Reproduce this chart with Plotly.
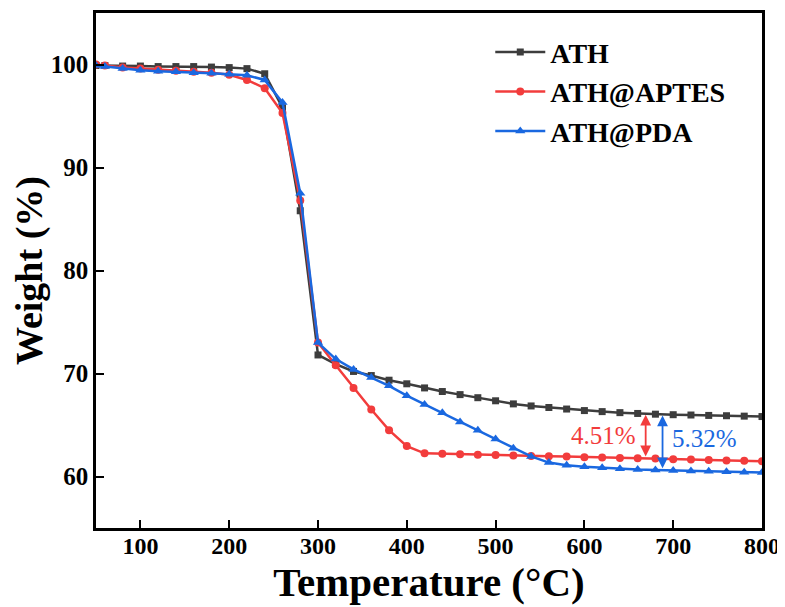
import numpy as np
import plotly.graph_objects as go

temperature = [50, 60, 80, 100, 120, 140, 160, 180, 200, 220, 240, 260, 280, 300,
               320, 340, 360, 380, 400, 420, 440, 460, 480, 500, 520, 540, 560,
               580, 600, 620, 640, 660, 680, 700, 720, 740, 760, 780, 800]

ath = [99.9, 99.9, 99.85, 99.85, 99.8, 99.8, 99.8, 99.75, 99.7, 99.6, 99.1, 95.8,
       85.8, 71.8, 70.9, 70.2, 69.8, 69.35, 69.0, 68.6, 68.25, 67.95, 67.65, 67.35,
       67.05, 66.85, 66.7, 66.55, 66.4, 66.3, 66.2, 66.12, 66.05, 66.0, 65.97,
       65.93, 65.9, 65.86, 65.82]

ath_aptes = [100.0, 99.9, 99.7, 99.6, 99.5, 99.4, 99.3, 99.2, 99.0, 98.5, 97.7, 95.3,
             86.8, 73.0, 70.8, 68.6, 66.5, 64.5, 62.95, 62.25, 62.2, 62.15, 62.12,
             62.08, 62.03, 62.0, 61.97, 61.93, 61.88, 61.84, 61.8, 61.77, 61.74,
             61.68, 61.64, 61.6, 61.56, 61.52, 61.48]

ath_pda = [99.9, 99.8, 99.6, 99.45, 99.35, 99.3, 99.2, 99.15, 99.05, 98.95, 98.5, 96.3,
           87.5, 73.0, 71.4, 70.4, 69.6, 68.8, 67.85, 67.0, 66.2, 65.3, 64.5, 63.65,
           62.75, 61.95, 61.35, 61.1, 60.95, 60.85, 60.75, 60.68, 60.63, 60.58,
           60.54, 60.5, 60.46, 60.42, 60.38]

series_names = ["ATH", "ATH@APTES", "ATH@PDA"]
series_colors = ["#3d3d3d", "#f23c3c", "#1a68e0"]
series_symbols = ["square", "circle", "triangle-up"]
series_sizes = [7, 8, 9]

x_ticks = [100, 200, 300, 400, 500, 600, 700, 800]
y_ticks = [60, 70, 80, 90, 100]

diff_labels = ["4.51%", "5.32%"]
arrow_temps = [669, 688]

serif = "Liberation Serif"

fig = go.Figure()
for name, ys, col, sym, sz in zip(series_names, [ath, ath_aptes, ath_pda],
                                  series_colors, series_symbols, series_sizes):
    fig.add_trace(go.Scatter(
        x=temperature, y=ys, name=name, mode="lines+markers",
        line=dict(color=col, width=2.5),
        marker=dict(symbol=sym, size=sz, color=col),
    ))

# double-headed arrows between residues
t = np.array(temperature, dtype=float)
ath_at = [float(np.interp(a, t, ath)) for a in arrow_temps]
low_at = [float(np.interp(arrow_temps[0], t, ath_aptes)),
          float(np.interp(arrow_temps[1], t, ath_pda))]
for a, top, bot, col in zip(arrow_temps, ath_at, low_at, series_colors[1:]):
    fig.add_annotation(
        x=a, y=top - 0.1, ax=a, ay=bot + 0.05, xref="x", yref="y", axref="x", ayref="y",
        text="", showarrow=True, arrowhead=2, arrowside="end+start",
        arrowsize=1.2, arrowwidth=1.8, arrowcolor=col, standoff=0, startstandoff=0,
    )

fig.add_annotation(x=arrow_temps[0] - 9, y=(ath_at[0] + low_at[0]) / 2 + 0.1,
                   xref="x", yref="y", xanchor="right", yanchor="middle",
                   text=diff_labels[0], showarrow=False,
                   font=dict(family=serif, size=25, color=series_colors[1]))
fig.add_annotation(x=arrow_temps[1] + 8, y=(ath_at[1] + low_at[1]) / 2 + 0.4,
                   xref="x", yref="y", xanchor="left", yanchor="middle",
                   text=diff_labels[1], showarrow=False,
                   font=dict(family=serif, size=25, color=series_colors[2]))

axis_common = dict(
    showline=True, linecolor="black", linewidth=2.5, mirror=True,
    ticks="inside", ticklen=8, tickwidth=2, tickcolor="black",
    showgrid=False, zeroline=False, automargin=False,
)

# page body has an 8px margin, so the figure is shrunk by 8px to fit the window
fig.update_layout(
    width=777, height=599,
    margin=dict(l=88, r=23, t=5, b=79),
    paper_bgcolor="white", plot_bgcolor="white",
    showlegend=True,
    legend=dict(x=0.592, y=0.972, xanchor="left", yanchor="top",
                bgcolor="rgba(0,0,0,0)", itemwidth=50,
                font=dict(family=serif, size=28, color="black", weight="bold"),
                tracegroupgap=0),
    xaxis=dict(range=[50, 800], tickvals=x_ticks, ticklabelstandoff=-6,
               tickfont=dict(family=serif, size=24, color="black", weight="bold"),
               title=dict(text="Temperature (°C)", standoff=5,
                          font=dict(family=serif, size=41, color="black", weight="bold")),
               **axis_common),
    yaxis=dict(range=[55, 105], tickvals=y_ticks,
               tickfont=dict(family=serif, size=25, color="black", weight="bold"),
               title=dict(text="Weight (%)",
                          font=dict(family=serif, size=38, color="black", weight="bold")),
               **axis_common),
)

fig.write_html("out.html")
